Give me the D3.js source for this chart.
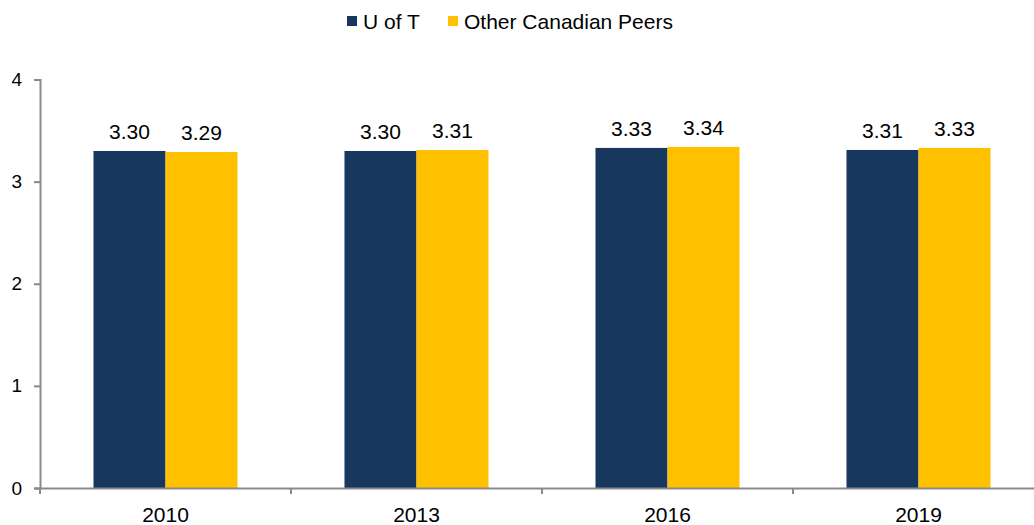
<!DOCTYPE html>
<html>
<head>
<meta charset="utf-8">
<script src="https://cdn.jsdelivr.net/npm/d3@7"></script>
<style>
  body { margin: 0; background: #fff; }
  text { font-family: "Liberation Sans", Arial, sans-serif; fill: #000; }
</style>
</head>
<body>
<div id="chart"></div>
<script>
const years = ["2010", "2013", "2016", "2019"];
const seriesNames = ["U of T", "Other Canadian Peers"];
const uoft = [3.30, 3.30, 3.33, 3.31];
const peers = [3.29, 3.31, 3.34, 3.33];
const yTicks = [0, 1, 2, 3, 4];
const colors = ["#17375E", "#FFC000"];

const W = 1034, H = 525;
const FONT = '"Liberation Sans", Arial, sans-serif';
const svg = d3.select('#chart').append('svg')
  .attr('width', W).attr('height', H);

const x0 = d3.scaleBand().domain(years).range([40, 1044]).padding(0);
const x1 = d3.scaleBand().domain(seriesNames)
  .range([0, x0.bandwidth()]).paddingInner(0).paddingOuter(0.743);
const y = d3.scaleLinear().domain([0, 4]).range([488, 79.5]);

const rows = years.map((yr, i) => ({ year: yr, vals: [uoft[i], peers[i]] }));

// bars
const groups = svg.selectAll('.grp').data(rows).enter().append('g')
  .attr('transform', d => `translate(${x0(d.year)},0)`);

groups.selectAll('rect')
  .data(d => d.vals.map((v, j) => ({ name: seriesNames[j], v, j })))
  .enter().append('rect')
  .attr('x', d => x1(d.name))
  .attr('y', d => y(d.v))
  .attr('width', x1.bandwidth())
  .attr('height', d => y(0) - y(d.v))
  .attr('fill', d => colors[d.j]);

// value labels above bars
groups.selectAll('.val')
  .data(d => d.vals.map((v, j) => ({ name: seriesNames[j], v, j })))
  .enter().append('text')
  .attr('x', d => x1(d.name) + x1.bandwidth() / 2)
  .attr('y', d => y(d.v) - 12)
  .attr('text-anchor', 'middle')
  .attr('font-size', 21)
  .text(d => d.v.toFixed(2));

// y axis
const yAxis = svg.append('g')
  .attr('transform', 'translate(40,0)')
  .call(d3.axisLeft(y).tickValues(yTicks).tickSize(6).tickPadding(12).tickFormat(d3.format('d')));
yAxis.select('.domain').attr('stroke', '#898989').attr('stroke-width', 2);
yAxis.selectAll('.tick line').attr('stroke', '#898989').attr('stroke-width', 2);
yAxis.selectAll('.tick text').attr('font-size', 19).attr('font-family', FONT).attr('fill', '#000');

// x axis
const xAxis = svg.append('g')
  .attr('transform', `translate(0,${y(0)})`)
  .call(d3.axisBottom(x0).tickSize(0).tickPadding(19));
xAxis.select('.domain').attr('stroke', '#898989').attr('stroke-width', 2);
xAxis.selectAll('.tick text').attr('font-size', 21).attr('font-family', FONT).attr('fill', '#000');
// tick marks between categories
xAxis.selectAll('.bound')
  .data(years.concat(['end']))
  .enter().append('line')
  .attr('x1', (d, i) => x0.range()[0] + i * x0.step())
  .attr('x2', (d, i) => x0.range()[0] + i * x0.step())
  .attr('y1', 0).attr('y2', 6)
  .attr('stroke', '#898989').attr('stroke-width', 2);

// legend
const legend = svg.append('g');
const legX = [347, 448];
seriesNames.forEach((s, i) => {
  legend.append('rect')
    .attr('x', legX[i]).attr('y', 16)
    .attr('width', 10).attr('height', 10)
    .attr('fill', colors[i]);
  legend.append('text')
    .attr('x', legX[i] + 16).attr('y', 28.5)
    .attr('font-size', 21)
    .text(s);
});
</script>
</body>
</html>
